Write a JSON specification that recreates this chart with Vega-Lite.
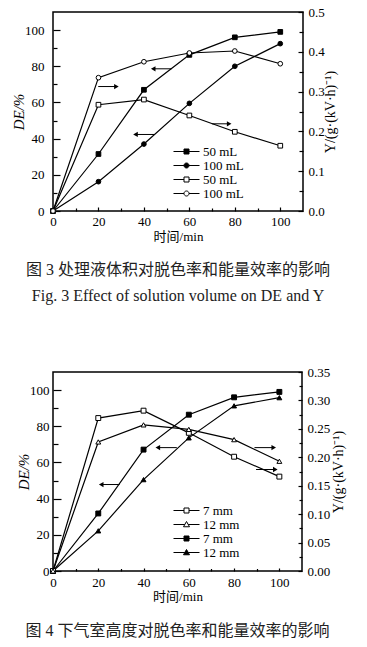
{
  "$schema": "https://vega.github.io/schema/vega-lite/v6.json",
  "background": "white",
  "padding": {"left": 10, "top": 5, "right": 5, "bottom": 5},
  "spacing": 60,
  "datasets": {
    "c1": [
      {"t": 0, "s": "50 mL|DE", "DE": 0}, {"t": 20, "s": "50 mL|DE", "DE": 31.5}, {"t": 40, "s": "50 mL|DE", "DE": 67}, {"t": 60, "s": "50 mL|DE", "DE": 86.3}, {"t": 80, "s": "50 mL|DE", "DE": 96}, {"t": 100, "s": "50 mL|DE", "DE": 99},
      {"t": 0, "s": "100 mL|DE", "DE": 0}, {"t": 20, "s": "100 mL|DE", "DE": 16.2}, {"t": 40, "s": "100 mL|DE", "DE": 37}, {"t": 60, "s": "100 mL|DE", "DE": 59.5}, {"t": 80, "s": "100 mL|DE", "DE": 80}, {"t": 100, "s": "100 mL|DE", "DE": 92.5},
      {"t": 0, "s": "50 mL|Y", "Y": 0}, {"t": 20, "s": "50 mL|Y", "Y": 0.267}, {"t": 40, "s": "50 mL|Y", "Y": 0.28}, {"t": 60, "s": "50 mL|Y", "Y": 0.24}, {"t": 80, "s": "50 mL|Y", "Y": 0.199}, {"t": 100, "s": "50 mL|Y", "Y": 0.164},
      {"t": 0, "s": "100 mL|Y", "Y": 0}, {"t": 20, "s": "100 mL|Y", "Y": 0.335}, {"t": 40, "s": "100 mL|Y", "Y": 0.375}, {"t": 60, "s": "100 mL|Y", "Y": 0.397}, {"t": 80, "s": "100 mL|Y", "Y": 0.402}, {"t": 100, "s": "100 mL|Y", "Y": 0.37}
    ],
    "a1": [
      {"from": 19.9, "to": 27.9, "y": 68.8},
      {"from": 52.2, "to": 44.1, "y": 78.6},
      {"from": 44.9, "to": 36.3, "y": 42.3},
      {"from": 69.9, "to": 77.5, "y": 48.2}
    ],
    "c2": [
      {"t": 0, "s": "7 mm|Y", "Y": 0}, {"t": 20, "s": "7 mm|Y", "Y": 0.269}, {"t": 40, "s": "7 mm|Y", "Y": 0.282}, {"t": 60, "s": "7 mm|Y", "Y": 0.243}, {"t": 80, "s": "7 mm|Y", "Y": 0.201}, {"t": 100, "s": "7 mm|Y", "Y": 0.166},
      {"t": 0, "s": "12 mm|Y", "Y": 0}, {"t": 20, "s": "12 mm|Y", "Y": 0.227}, {"t": 40, "s": "12 mm|Y", "Y": 0.257}, {"t": 60, "s": "12 mm|Y", "Y": 0.249}, {"t": 80, "s": "12 mm|Y", "Y": 0.231}, {"t": 100, "s": "12 mm|Y", "Y": 0.193},
      {"t": 0, "s": "7 mm|DE", "DE": 0}, {"t": 20, "s": "7 mm|DE", "DE": 31.8}, {"t": 40, "s": "7 mm|DE", "DE": 67.1}, {"t": 60, "s": "7 mm|DE", "DE": 86.4}, {"t": 80, "s": "7 mm|DE", "DE": 96}, {"t": 100, "s": "7 mm|DE", "DE": 99},
      {"t": 0, "s": "12 mm|DE", "DE": 0}, {"t": 20, "s": "12 mm|DE", "DE": 22.2}, {"t": 40, "s": "12 mm|DE", "DE": 50.5}, {"t": 60, "s": "12 mm|DE", "DE": 73.6}, {"t": 80, "s": "12 mm|DE", "DE": 91.3}, {"t": 100, "s": "12 mm|DE", "DE": 95.8}
    ],
    "a2": [
      {"from": 54.7, "to": 46.3, "y": 68.2},
      {"from": 29.4, "to": 21.3, "y": 47.8},
      {"from": 89, "to": 97.5, "y": 68.2},
      {"from": 89.7, "to": 98.2, "y": 56.1}
    ]
  },
  "config": {
    "font": "Liberation Serif, Noto Sans CJK SC",
    "view": {"stroke": "black", "strokeWidth": 1.5},
    "axis": {
      "grid": false, "domain": false, "labelFlush": false, "labelOverlap": false,
      "tickColor": "black", "tickWidth": 1.2,
      "labelColor": "black", "labelFont": "Liberation Serif", "labelFontSize": 13,
      "titleColor": "black", "titleFont": "Liberation Serif, Noto Sans CJK SC", "titleFontSize": 14, "titleFontWeight": "normal"
    },
    "legend": {"orient": "none", "padding": 0, "labelFont": "Liberation Serif", "labelFontSize": 13, "labelColor": "black", "labelOffset": 10, "rowPadding": -2, "symbolSize": 100, "symbolStrokeWidth": 1, "symbolStrokeColor": "black", "symbolOpacity": 1}
  },
  "resolve": {"scale": {"shape": "independent", "fill": "independent", "stroke": "independent"}},
  "vconcat": [
    {
      "width": 250, "height": 199,
      "title": {"text": "图 3   处理液体积对脱色率和能量效率的影响", "subtitle": "Fig. 3   Effect of solution volume on DE and Y", "orient": "bottom", "anchor": "middle", "offset": 19, "fontSize": 16, "fontWeight": "normal", "font": "Liberation Serif, Noto Sans CJK SC", "color": "#222", "subtitleFont": "Liberation Serif", "subtitleFontSize": 16, "subtitleColor": "#222", "subtitlePadding": 10},
      "layer": [
        {
          "data": {"name": "c1"}, "transform": [{"filter": "isValid(datum.DE)"}],
          "mark": {"type": "line", "color": "black", "strokeWidth": 1.2},
          "encoding": {
            "x": {"field": "t", "type": "quantitative", "scale": {"domain": [0, 110], "nice": false},
              "axis": {"orient": "bottom", "title": "时间/min", "titleFontSize": 13, "values": [0, 20, 40, 60, 80, 100], "tickSize": 4, "offset": -4, "labelPadding": 4, "titlePadding": 2}},
            "y": {"field": "DE", "type": "quantitative", "scale": {"domain": [0, 110], "nice": false},
              "axis": {"orient": "left", "title": "DE/%", "titleFontStyle": "italic", "titleFontSize": 15, "values": [0, 20, 40, 60, 80, 100], "tickSize": 7, "offset": -7, "labelPadding": 9, "titlePadding": -2}},
            "detail": {"field": "s"}
          }
        },
        {
          "data": {"name": "c1"}, "transform": [{"filter": "isValid(datum.DE)"}],
          "mark": {"type": "point", "filled": true, "stroke": "black", "strokeWidth": 1, "size": 22, "opacity": 1},
          "encoding": {
            "x": {"field": "t", "type": "quantitative", "scale": {"domain": [0, 110], "nice": false},
              "axis": {"orient": "bottom", "title": null, "labels": false, "values": [10, 30, 50, 70, 90], "tickSize": 3, "offset": -3}},
            "y": {"field": "DE", "type": "quantitative", "scale": {"domain": [0, 110], "nice": false},
              "axis": {"orient": "left", "title": null, "labels": false, "values": [10, 30, 50, 70, 90], "tickSize": 4, "offset": -4}},
            "shape": {"field": "s", "type": "nominal", "scale": {"domain": ["50 mL|DE", "100 mL|DE"], "range": ["square", "circle"]}, "legend": null},
            "fill": {"field": "s", "type": "nominal", "scale": {"domain": ["50 mL|DE", "100 mL|DE"], "range": ["black", "black"]}, "legend": null}
          }
        },
        {
          "data": {"name": "a1"},
          "mark": {"type": "rule", "color": "black", "strokeWidth": 1},
          "encoding": {
            "x": {"field": "from", "type": "quantitative", "scale": {"domain": [0, 110], "nice": false}, "axis": null},
            "x2": {"field": "to"},
            "y": {"field": "y", "type": "quantitative", "scale": {"domain": [0, 110], "nice": false}, "axis": null}
          }
        },
        {
          "data": {"name": "a1"}, "transform": [{"filter": "datum.to > datum.from"}],
          "mark": {"type": "point", "shape": "triangle-right", "filled": true, "color": "black", "size": 28, "opacity": 1},
          "encoding": {
            "x": {"field": "to", "type": "quantitative", "scale": {"domain": [0, 110], "nice": false}, "axis": null},
            "y": {"field": "y", "type": "quantitative", "scale": {"domain": [0, 110], "nice": false}, "axis": null}
          }
        },
        {
          "data": {"name": "a1"}, "transform": [{"filter": "datum.to < datum.from"}],
          "mark": {"type": "point", "shape": "triangle-left", "filled": true, "color": "black", "size": 28, "opacity": 1},
          "encoding": {
            "x": {"field": "to", "type": "quantitative", "scale": {"domain": [0, 110], "nice": false}, "axis": null},
            "y": {"field": "y", "type": "quantitative", "scale": {"domain": [0, 110], "nice": false}, "axis": null}
          }
        },
        {
          "data": {"name": "c1"}, "transform": [{"filter": "isValid(datum.Y)"}],
          "mark": {"type": "line", "color": "black", "strokeWidth": 1.2},
          "encoding": {
            "x": {"field": "t", "type": "quantitative", "scale": {"domain": [0, 110], "nice": false}, "axis": null},
            "y": {"field": "Y", "type": "quantitative", "scale": {"domain": [0, 0.5], "nice": false},
              "axis": {"orient": "right", "title": "Y/(g·(kV·h)⁻¹)", "titleFontSize": 14, "titleAngle": 270, "titleBaseline": "top", "values": [0, 0.1, 0.2, 0.3, 0.4, 0.5], "format": ".1f", "tickSize": 5, "offset": -5, "labelPadding": 5, "titlePadding": -1}},
            "detail": {"field": "s"}
          }
        },
        {
          "data": {"name": "c1"}, "transform": [{"filter": "isValid(datum.Y)"}],
          "mark": {"type": "point", "filled": true, "stroke": "black", "strokeWidth": 1, "size": 22, "opacity": 1},
          "encoding": {
            "x": {"field": "t", "type": "quantitative", "scale": {"domain": [0, 110], "nice": false}, "axis": null},
            "y": {"field": "Y", "type": "quantitative", "scale": {"domain": [0, 0.5], "nice": false},
              "axis": {"orient": "right", "title": null, "labels": false, "values": [0.05, 0.15, 0.25, 0.35, 0.45], "tickSize": 4, "offset": -4}},
            "shape": {"field": "s", "type": "nominal", "scale": {"domain": ["50 mL|Y", "100 mL|Y"], "range": ["square", "circle"]}, "legend": null},
            "fill": {"field": "s", "type": "nominal", "scale": {"domain": ["50 mL|Y", "100 mL|Y"], "range": ["white", "white"]}, "legend": null}
          }
        },
        {
          "data": {"name": "c1"}, "transform": [{"filter": "false"}],
          "mark": {"type": "point", "filled": true, "strokeWidth": 1, "opacity": 1},
          "encoding": {
            "x": {"field": "t", "type": "quantitative", "scale": {"domain": [0, 110], "nice": false}, "axis": null},
            "y": {"field": "DE", "type": "quantitative", "scale": {"domain": [0, 110], "nice": false}, "axis": null},
            "shape": {"field": "s", "type": "nominal", "scale": {"domain": ["50 mL|DE", "100 mL|DE", "50 mL|Y", "100 mL|Y"], "range": ["M-2.6,0H-0.5M0.5,0H2.6M-0.5,-0.5H0.5V0.5H-0.5Z", "M-2.6,0H-0.5M0.5,0H2.6M0.5,0A0.5,0.5,0,1,1,-0.5,0A0.5,0.5,0,1,1,0.5,0Z", "M-2.6,0H-0.5M0.5,0H2.6M-0.5,-0.5H0.5V0.5H-0.5Z", "M-2.6,0H-0.5M0.5,0H2.6M0.5,0A0.5,0.5,0,1,1,-0.5,0A0.5,0.5,0,1,1,0.5,0Z"]},
              "legend": {"title": null, "legendX": 127, "legendY": 133, "labelExpr": "split(datum.label,'|')[0]"}},
            "fill": {"field": "s", "type": "nominal", "scale": {"domain": ["50 mL|DE", "100 mL|DE", "50 mL|Y", "100 mL|Y"], "range": ["black", "black", "white", "white"]},
              "legend": {"title": null, "legendX": 127, "legendY": 133, "labelExpr": "split(datum.label,'|')[0]"}},
            "stroke": {"field": "s", "type": "nominal", "scale": {"domain": ["50 mL|DE", "100 mL|DE", "50 mL|Y", "100 mL|Y"], "range": ["black", "black", "black", "black"]},
              "legend": {"title": null, "legendX": 127, "legendY": 133, "labelExpr": "split(datum.label,'|')[0]"}}
          }
        }
      ],
      "resolve": {"scale": {"y": "independent", "shape": "independent", "fill": "independent", "stroke": "independent"}, "axis": {"x": "independent"}}
    },
    {
      "width": 249, "height": 199,
      "title": {"text": "图 4   下气室高度对脱色率和能量效率的影响", "orient": "bottom", "anchor": "middle", "offset": 20, "fontSize": 16, "fontWeight": "normal", "font": "Liberation Serif, Noto Sans CJK SC", "color": "#222"},
      "layer": [
        {
          "data": {"name": "c2"}, "transform": [{"filter": "isValid(datum.DE)"}],
          "mark": {"type": "line", "color": "black", "strokeWidth": 1.2},
          "encoding": {
            "x": {"field": "t", "type": "quantitative", "scale": {"domain": [0, 110], "nice": false},
              "axis": {"orient": "bottom", "title": "时间/min", "titleFontSize": 13, "values": [0, 20, 40, 60, 80, 100], "tickSize": 3, "offset": -3, "labelPadding": 5, "titlePadding": 1}},
            "y": {"field": "DE", "type": "quantitative", "scale": {"domain": [0, 110], "nice": false},
              "axis": {"orient": "left", "title": "DE/%", "titleFontStyle": "italic", "titleFontSize": 15, "values": [0, 20, 40, 60, 80, 100], "tickSize": 8, "offset": -8, "labelPadding": 4, "titlePadding": -2}},
            "detail": {"field": "s"}
          }
        },
        {
          "data": {"name": "c2"}, "transform": [{"filter": "isValid(datum.DE)"}],
          "mark": {"type": "point", "filled": true, "stroke": "black", "strokeWidth": 1, "size": 24, "opacity": 1},
          "encoding": {
            "x": {"field": "t", "type": "quantitative", "scale": {"domain": [0, 110], "nice": false},
              "axis": {"orient": "bottom", "title": null, "labels": false, "values": [10, 30, 50, 70, 90], "tickSize": 2.5, "offset": -2.5}},
            "y": {"field": "DE", "type": "quantitative", "scale": {"domain": [0, 110], "nice": false},
              "axis": {"orient": "left", "title": null, "labels": false, "values": [10, 30, 50, 70, 90], "tickSize": 5, "offset": -5}},
            "shape": {"field": "s", "type": "nominal", "scale": {"domain": ["7 mm|DE", "12 mm|DE"], "range": ["square", "triangle-up"]}, "legend": null},
            "fill": {"field": "s", "type": "nominal", "scale": {"domain": ["7 mm|DE", "12 mm|DE"], "range": ["black", "black"]}, "legend": null}
          }
        },
        {
          "data": {"name": "a2"},
          "mark": {"type": "rule", "color": "black", "strokeWidth": 1},
          "encoding": {
            "x": {"field": "from", "type": "quantitative", "scale": {"domain": [0, 110], "nice": false}, "axis": null},
            "x2": {"field": "to"},
            "y": {"field": "y", "type": "quantitative", "scale": {"domain": [0, 110], "nice": false}, "axis": null}
          }
        },
        {
          "data": {"name": "a2"}, "transform": [{"filter": "datum.to > datum.from"}],
          "mark": {"type": "point", "shape": "triangle-right", "filled": true, "color": "black", "size": 28, "opacity": 1},
          "encoding": {
            "x": {"field": "to", "type": "quantitative", "scale": {"domain": [0, 110], "nice": false}, "axis": null},
            "y": {"field": "y", "type": "quantitative", "scale": {"domain": [0, 110], "nice": false}, "axis": null}
          }
        },
        {
          "data": {"name": "a2"}, "transform": [{"filter": "datum.to < datum.from"}],
          "mark": {"type": "point", "shape": "triangle-left", "filled": true, "color": "black", "size": 28, "opacity": 1},
          "encoding": {
            "x": {"field": "to", "type": "quantitative", "scale": {"domain": [0, 110], "nice": false}, "axis": null},
            "y": {"field": "y", "type": "quantitative", "scale": {"domain": [0, 110], "nice": false}, "axis": null}
          }
        },
        {
          "data": {"name": "c2"}, "transform": [{"filter": "isValid(datum.Y)"}],
          "mark": {"type": "line", "color": "black", "strokeWidth": 1.2},
          "encoding": {
            "x": {"field": "t", "type": "quantitative", "scale": {"domain": [0, 110], "nice": false}, "axis": null},
            "y": {"field": "Y", "type": "quantitative", "scale": {"domain": [0, 0.35], "nice": false},
              "axis": {"orient": "right", "title": "Y/(g·(kV·h)⁻¹)", "titleFontSize": 14, "titleAngle": 270, "titleBaseline": "top", "values": [0, 0.05, 0.1, 0.15, 0.2, 0.25, 0.3, 0.35], "format": ".2f", "tickSize": 4, "offset": -4, "labelPadding": 5, "titlePadding": 2}},
            "detail": {"field": "s"}
          }
        },
        {
          "data": {"name": "c2"}, "transform": [{"filter": "isValid(datum.Y)"}],
          "mark": {"type": "point", "filled": true, "stroke": "black", "strokeWidth": 1, "size": 24, "opacity": 1},
          "encoding": {
            "x": {"field": "t", "type": "quantitative", "scale": {"domain": [0, 110], "nice": false}, "axis": null},
            "y": {"field": "Y", "type": "quantitative", "scale": {"domain": [0, 0.35], "nice": false},
              "axis": {"orient": "right", "title": null, "labels": false, "values": [0.025, 0.075, 0.125, 0.175, 0.225, 0.275, 0.325], "tickSize": 3, "offset": -3}},
            "shape": {"field": "s", "type": "nominal", "scale": {"domain": ["7 mm|Y", "12 mm|Y"], "range": ["square", "triangle-up"]}, "legend": null},
            "fill": {"field": "s", "type": "nominal", "scale": {"domain": ["7 mm|Y", "12 mm|Y"], "range": ["white", "white"]}, "legend": null}
          }
        },
        {
          "data": {"name": "c2"}, "transform": [{"filter": "false"}],
          "mark": {"type": "point", "filled": true, "strokeWidth": 1, "opacity": 1},
          "encoding": {
            "x": {"field": "t", "type": "quantitative", "scale": {"domain": [0, 110], "nice": false}, "axis": null},
            "y": {"field": "DE", "type": "quantitative", "scale": {"domain": [0, 110], "nice": false}, "axis": null},
            "shape": {"field": "s", "type": "nominal", "scale": {"domain": ["7 mm|Y", "12 mm|Y", "7 mm|DE", "12 mm|DE"], "range": ["M-2.6,0H-0.5M0.5,0H2.6M-0.5,-0.5H0.5V0.5H-0.5Z", "M-2.6,0H-0.34M0.34,0H2.6M0,-0.6L0.6,0.45H-0.6Z", "M-2.6,0H-0.5M0.5,0H2.6M-0.5,-0.5H0.5V0.5H-0.5Z", "M-2.6,0H-0.34M0.34,0H2.6M0,-0.6L0.6,0.45H-0.6Z"]},
              "legend": {"title": null, "legendX": 127, "legendY": 132, "labelExpr": "split(datum.label,'|')[0]"}},
            "fill": {"field": "s", "type": "nominal", "scale": {"domain": ["7 mm|Y", "12 mm|Y", "7 mm|DE", "12 mm|DE"], "range": ["white", "white", "black", "black"]},
              "legend": {"title": null, "legendX": 127, "legendY": 132, "labelExpr": "split(datum.label,'|')[0]"}},
            "stroke": {"field": "s", "type": "nominal", "scale": {"domain": ["7 mm|Y", "12 mm|Y", "7 mm|DE", "12 mm|DE"], "range": ["black", "black", "black", "black"]},
              "legend": {"title": null, "legendX": 127, "legendY": 132, "labelExpr": "split(datum.label,'|')[0]"}}
          }
        }
      ],
      "resolve": {"scale": {"y": "independent", "shape": "independent", "fill": "independent", "stroke": "independent"}, "axis": {"x": "independent"}}
    }
  ]
}
